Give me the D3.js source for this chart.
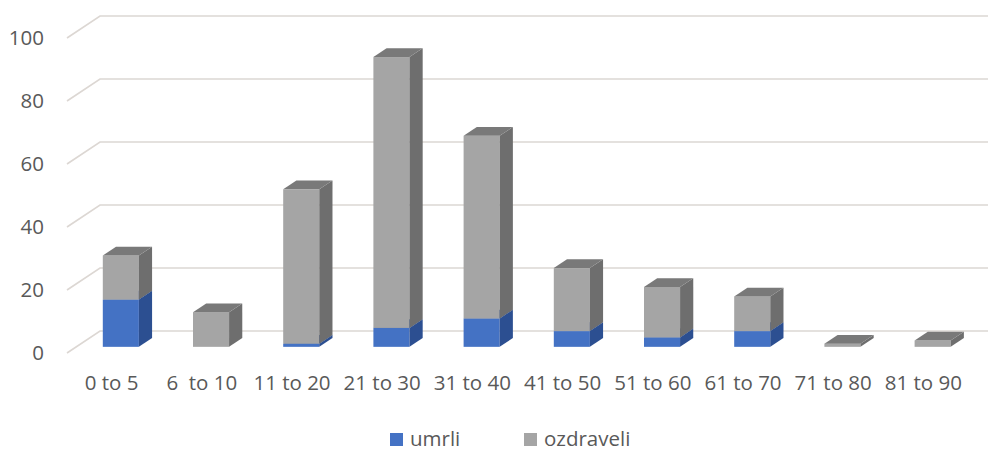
<!DOCTYPE html>
<html>
<head>
<meta charset="utf-8">
<script src="https://cdn.jsdelivr.net/npm/d3@7"></script>
<style>
  html, body { margin: 0; padding: 0; background: #ffffff; }
  svg { display: block; }
  text { font-family: "Open Sans", "Noto Sans", sans-serif; fill: #595959; }
</style>
</head>
<body>
<svg id="chart" width="988" height="451"></svg>
<script>
// Age groups and counts per group
const categories = ["0 to 5", "6  to 10", "11 to 20", "21 to 30", "31 to 40",
                    "41 to 50", "51 to 60", "61 to 70", "71 to 80", "81 to 90"];
const umrli     = [15, 0, 1, 6, 9, 5, 3, 5, 0, 0];
const ozdraveli = [14, 11, 49, 86, 58, 20, 16, 11, 1, 2];
const yTicks = [0, 20, 40, 60, 80, 100];
const seriesNames = ["umrli", "ozdraveli"];

const W = 988, H = 451;
const svg = d3.select("#chart");

// Oblique 3D projection: depth d in [0,1] shifts right and up
const DX = 33, DY = 22;
const proj = (x, y, d) => [x + DX * d, y - DY * d];

const x = d3.scaleBand().domain(categories).range([66.5, 968.5])
  .paddingInner(0.6).paddingOuter(0.3);
const y = d3.scaleLinear().domain([0, 100]).range([353, 38]);

// Gridlines: along the left side wall, then across the back wall
const grid = svg.append("g");
yTicks.forEach(t => {
  const [bx, by] = proj(67, y(t), 1);
  grid.append("path")
    .attr("d", `M67,${y(t)}L${bx},${by}L${W},${by}`)
    .attr("fill", "none")
    .attr("stroke", "#dcd7d3")
    .attr("stroke-width", 1.6);
});

// Y tick labels at the front of the side wall
svg.append("g").selectAll("text").data(yTicks).join("text")
  .attr("x", 44).attr("y", d => y(d) + 2)
  .attr("text-anchor", "end")
  .attr("dominant-baseline", "middle")
  .style("font-size", "20.5px")
  .text(d => d);

// Stacked 3D columns
const d0 = 0.28, d1 = 0.68;
const colors = {
  umrli:     { front: "#4472c4", side: "#2c4f91", top: "#3a63ae" },
  ozdraveli: { front: "#a5a5a5", side: "#6e6e6e", top: "#797979" }
};
const pts = arr => arr.map(p => p.join(",")).join(" ");

const bars = svg.append("g");
categories.forEach((c, i) => {
  const segs = [
    { name: "umrli", v0: 0, v1: umrli[i] },
    { name: "ozdraveli", v0: umrli[i], v1: umrli[i] + ozdraveli[i] }
  ];
  const xl = x(c), xr = x(c) + x.bandwidth();
  segs.forEach(s => {
    if (s.v1 <= s.v0) return;
    const col = colors[s.name];
    const ya = y(s.v0), yb = y(s.v1);
    const g = bars.append("g");
    // front face
    const fl = proj(xl, yb, d0), fr = proj(xr, ya, d0);
    g.append("rect")
      .attr("x", fl[0]).attr("y", fl[1])
      .attr("width", fr[0] - fl[0]).attr("height", fr[1] - fl[1])
      .attr("fill", col.front);
    // right side face
    g.append("polygon")
      .attr("points", pts([proj(xr, yb, d0), proj(xr, yb, d1), proj(xr, ya, d1), proj(xr, ya, d0)]))
      .attr("fill", col.side);
    // top face
    g.append("polygon")
      .attr("points", pts([proj(xl, yb, d0), proj(xl, yb, d1), proj(xr, yb, d1), proj(xr, yb, d0)]))
      .attr("fill", col.top);
  });
});

// Category labels along the front edge of the floor
svg.append("g").selectAll("text").data(categories).join("text")
  .attr("x", d => x(d) + x.bandwidth() / 2)
  .attr("y", 390)
  .attr("text-anchor", "middle")
  .style("font-size", "20.5px")
  .style("white-space", "pre")
  .text(d => d);

// Legend
const legendX = [390, 524];
const legend = svg.append("g");
seriesNames.forEach((n, i) => {
  legend.append("rect")
    .attr("x", legendX[i]).attr("y", 433)
    .attr("width", 13).attr("height", 13)
    .attr("fill", colors[n].front);
  legend.append("text")
    .attr("x", legendX[i] + 20).attr("y", 446)
    .style("font-size", "20.5px")
    .text(n);
});
</script>
</body>
</html>
